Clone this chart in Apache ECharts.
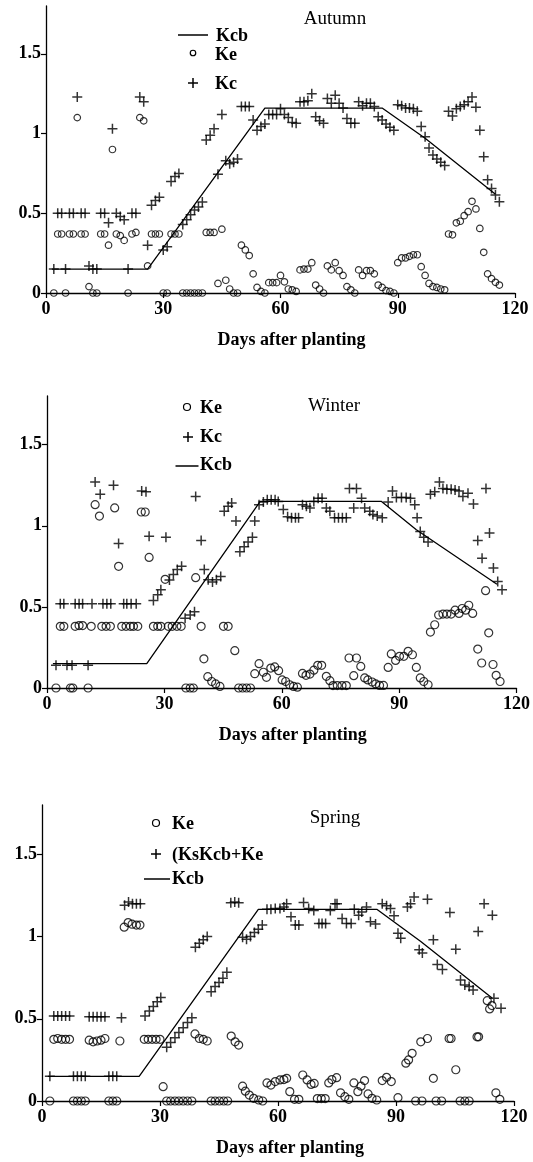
<!DOCTYPE html>
<html><head><meta charset="utf-8">
<script src="https://cdn.jsdelivr.net/npm/echarts@6/dist/echarts.min.js"></script>
<style>html,body{margin:0;padding:0;background:#fff}#c{width:533px;height:1162px}</style>
</head><body><div id="c"></div>
<script>
const xTicks = [0, 30, 60, 90, 120];
const yTicks = [0, 0.5, 1, 1.5];
const seasonTitles = ['Autumn', 'Winter', 'Spring'];
const xTitle = 'Days after planting';

const autumnKcb = [[1.5,0.15],[26,0.15],[56,1.16],[86,1.16],[97,0.97],[115,0.62]];
const autumnKe = [[2,0],[3,0.37],[4,0.37],[5,0],[6,0.37],[7,0.37],[8,1.10],[9,0.37],[10,0.37],[11,0.04],[12,0],[13,0],[14,0.37],[15,0.37],[16,0.30],[17,0.90],[18,0.37],[19,0.36],[20,0.33],[21,0],[22,0.37],[23,0.38],[24,1.10],[25,1.08],[26,0.17],[27,0.37],[28,0.37],[29,0.37],[30,0],[31,0],[32,0.37],[33,0.37],[34,0.37],[35,0],[36,0],[37,0],[38,0],[39,0],[40,0],[41,0.38],[42,0.38],[43,0.38],[44,0.06],[45,0.40],[46,0.08],[47,0.025],[48,0],[49,0],[50,0.30],[51,0.27],[52,0.235],[53,0.12],[54,0.035],[55,0.01],[56,0],[57,0.065],[58,0.065],[59,0.065],[60,0.11],[61,0.07],[62,0.025],[63,0.02],[64,0.01],[65,0.145],[66,0.15],[67,0.15],[68,0.19],[69,0.05],[70,0.025],[71,0],[72,0.17],[73,0.145],[74,0.19],[75,0.14],[76,0.11],[77,0.04],[78,0.02],[79,0],[80,0.145],[81,0.11],[82,0.14],[83,0.14],[84,0.12],[85,0.05],[86,0.035],[87,0.015],[88,0.01],[89,0],[90,0.19],[91,0.22],[92,0.22],[93,0.23],[94,0.24],[95,0.24],[96,0.165],[97,0.11],[98,0.06],[99,0.04],[100,0.035],[101,0.025],[102,0.02],[103,0.37],[104,0.365],[105,0.44],[106,0.45],[107,0.485],[108,0.51],[109,0.575],[110,0.527],[111,0.405],[112,0.255],[113,0.12],[114,0.09],[115,0.067],[116,0.05]];
const autumnKc = [[2,0.15],[3,0.50],[4,0.50],[5,0.15],[6,0.50],[7,0.50],[8,1.23],[9,0.50],[10,0.50],[11,0.17],[12,0.15],[13,0.15],[14,0.50],[15,0.50],[16,0.44],[17,1.03],[18,0.50],[19,0.48],[20,0.46],[21,0.15],[22,0.50],[23,0.50],[24,1.23],[25,1.20],[26,0.30],[27,0.55],[28,0.58],[29,0.60],[30,0.27],[31,0.29],[32,0.70],[33,0.73],[34,0.75],[35,0.43],[36,0.46],[37,0.49],[38,0.52],[39,0.54],[40,0.57],[41,0.96],[42,0.99],[43,1.03],[44,0.745],[45,1.12],[46,0.83],[47,0.81],[48,0.82],[49,0.84],[50,1.17],[51,1.17],[52,1.17],[53,1.085],[54,1.02],[55,1.045],[56,1.06],[57,1.12],[58,1.12],[59,1.12],[60,1.155],[61,1.12],[62,1.10],[63,1.07],[64,1.065],[65,1.20],[66,1.20],[67,1.205],[68,1.25],[69,1.105],[70,1.08],[71,1.065],[72,1.22],[73,1.19],[74,1.24],[75,1.19],[76,1.16],[77,1.095],[78,1.065],[79,1.065],[80,1.20],[81,1.175],[82,1.19],[83,1.19],[84,1.17],[85,1.105],[86,1.085],[87,1.06],[88,1.04],[89,1.02],[90,1.18],[91,1.175],[92,1.16],[93,1.16],[94,1.155],[95,1.14],[96,1.045],[97,0.98],[98,0.91],[99,0.865],[100,0.84],[101,0.82],[102,0.80],[103,1.14],[104,1.11],[105,1.155],[106,1.17],[107,1.18],[108,1.20],[109,1.23],[110,1.165],[111,1.02],[112,0.855],[113,0.71],[114,0.655],[115,0.615],[116,0.573]];

const winterKcb = [[1.5,0.15],[25.5,0.15],[54.5,1.15],[85.5,1.15],[94.4,0.975],[115,0.64]];
const winterKe = [[2.3,0],[3.4,0.38],[4.3,0.38],[6,0],[6.6,0],[7.2,0.38],[8.2,0.385],[9.1,0.385],[10.5,0],[11.3,0.38],[12.3,1.13],[13.4,1.06],[14,0.38],[15.1,0.38],[16.2,0.38],[17.3,1.11],[18.3,0.75],[19.1,0.38],[20.2,0.38],[21.3,0.38],[22.1,0.38],[23.2,0.38],[24.1,1.085],[25.1,1.085],[26.1,0.805],[27.2,0.38],[28.3,0.38],[29.1,0.38],[30.2,0.67],[31,0.38],[32,0.38],[33.2,0.38],[34.3,0.38],[35.5,0],[36.6,0],[37.4,0],[38,0.68],[39.4,0.38],[40.1,0.18],[41.1,0.07],[42.1,0.04],[43.1,0.025],[44.2,0.01],[45.1,0.38],[46.3,0.38],[48,0.23],[49,0],[50,0],[51,0],[52,0],[53.1,0.088],[54.2,0.15],[55.3,0.097],[56.1,0.066],[57.2,0.123],[58.2,0.13],[59.2,0.107],[60.1,0.05],[61,0.04],[62,0.02],[63,0.01],[64,0.005],[65.3,0.09],[66.2,0.078],[67.2,0.086],[68.2,0.11],[69.2,0.14],[70.2,0.14],[71.4,0.072],[72.3,0.045],[73.1,0.015],[74.2,0.015],[75.4,0.015],[76.5,0.015],[77.2,0.185],[78.4,0.076],[79.1,0.185],[80.2,0.133],[81.2,0.062],[82,0.05],[83.1,0.037],[84,0.025],[85,0.016],[86,0.016],[87.2,0.127],[88,0.21],[89.1,0.17],[90.1,0.195],[91.2,0.195],[92.3,0.226],[93.4,0.205],[94.4,0.127],[95.4,0.062],[96.3,0.04],[97.4,0.02],[98,0.345],[99.1,0.39],[100.1,0.45],[101.2,0.456],[102.2,0.456],[103.3,0.456],[104.3,0.48],[105.3,0.46],[106.1,0.49],[107,0.48],[107.8,0.51],[108.8,0.46],[110.1,0.24],[111.1,0.154],[112.1,0.60],[112.9,0.34],[114,0.145],[114.8,0.078],[115.8,0.04]];
const winterKc = [[2.3,0.14],[3.4,0.52],[4.3,0.52],[5.1,0.14],[6.4,0.14],[7.2,0.52],[8.2,0.52],[9.1,0.52],[10.5,0.14],[11.5,0.52],[12.3,1.27],[13.6,1.195],[14.3,0.52],[15.3,0.52],[16.3,0.52],[17,1.25],[18.3,0.89],[19.6,0.52],[20.4,0.52],[21.5,0.52],[22.8,0.52],[24.2,1.215],[25.3,1.21],[26.1,0.935],[27.2,0.54],[28.3,0.575],[29.1,0.605],[30.4,0.93],[31.3,0.665],[32.3,0.70],[33.3,0.73],[34.4,0.75],[35.3,0.43],[36.6,0.45],[37.7,0.47],[38,1.18],[39.4,0.91],[40.2,0.73],[41.2,0.667],[42.3,0.653],[43.3,0.667],[44.4,0.688],[45.3,1.09],[46.3,1.12],[47.2,1.14],[48.3,1.03],[49.3,0.84],[50.4,0.87],[51.4,0.90],[52.5,0.93],[53.1,1.03],[54.2,1.13],[55.3,1.146],[56.3,1.16],[57.3,1.16],[58.3,1.16],[59.1,1.15],[60.4,1.10],[61.5,1.055],[62.5,1.05],[63.5,1.05],[64.3,1.05],[65.3,1.13],[66.3,1.12],[67.2,1.11],[68.2,1.15],[69.3,1.17],[70.3,1.17],[71.4,1.11],[72.3,1.09],[73.5,1.05],[74.5,1.05],[75.5,1.05],[76.5,1.05],[77.3,1.23],[78.4,1.11],[79.1,1.23],[80.4,1.17],[81.2,1.11],[82.5,1.09],[83.3,1.07],[84.4,1.06],[85.7,1.05],[87.2,1.146],[88.3,1.215],[89.3,1.175],[90.6,1.175],[91.8,1.175],[92.9,1.17],[94,1.13],[94.6,1.05],[95.4,0.965],[96.3,0.93],[97.4,0.90],[98,1.195],[99.1,1.21],[100.3,1.27],[101.2,1.23],[102.2,1.225],[103.3,1.225],[104.3,1.22],[105.3,1.215],[106.3,1.18],[107.6,1.20],[109,1.135],[110.1,0.91],[111.2,0.80],[112.2,1.23],[113.1,0.955],[114.1,0.74],[115.2,0.657],[116.3,0.605]];

const springKcb = [[1.5,0.15],[24.7,0.15],[55,1.165],[85.2,1.165],[96.3,0.97],[114.5,0.625]];
const springKe = [[2,0],[3,0.375],[4,0.38],[5,0.375],[6,0.375],[7,0.375],[8,0],[9,0],[10,0],[11,0],[12,0.37],[13,0.36],[14,0.365],[15,0.37],[16,0.38],[17,0],[18,0],[19,0],[19.8,0.365],[20.9,1.057],[21.9,1.085],[22.9,1.075],[24,1.07],[24.9,1.07],[26,0.375],[27,0.375],[28,0.375],[29,0.375],[30,0.375],[30.8,0.087],[31.7,0],[32.7,0],[33.8,0],[34.8,0],[35.9,0],[37,0],[38.1,0],[38.9,0.408],[40,0.38],[41,0.375],[42,0.365],[43,0],[44,0],[45.1,0],[46.2,0],[47.2,0],[48.1,0.395],[49.1,0.36],[50,0.34],[51,0.09],[51.7,0.06],[52.7,0.036],[53.8,0.016],[55.1,0.006],[56.1,0],[57.2,0.11],[58.2,0.097],[59.3,0.118],[60.5,0.128],[61.5,0.13],[62.2,0.138],[63,0.057],[64.2,0.01],[65.3,0.01],[66.3,0.158],[67.4,0.128],[68.4,0.101],[69.2,0.107],[70,0.015],[71,0.015],[72,0.015],[72.9,0.11],[73.7,0.13],[74.9,0.142],[75.9,0.05],[77,0.026],[78,0.01],[79.3,0.11],[80.3,0.057],[81.1,0.09],[82,0.124],[82.9,0.043],[83.9,0.016],[85.1,0.006],[86.5,0.124],[87.6,0.144],[88.8,0.118],[90.5,0.02],[92.5,0.23],[93.2,0.25],[94.1,0.29],[95,0],[96.3,0.36],[96.6,0],[98,0.38],[99.5,0.138],[100.2,0],[101.6,0],[103.5,0.38],[104,0.38],[105.2,0.19],[106.3,0],[107.5,0],[108.6,0],[110.6,0.39],[111,0.39],[113.2,0.61],[113.8,0.56],[114.4,0.58],[115.4,0.05],[116.4,0.01]];
const springKc = [[2,0.15],[3,0.517],[4,0.517],[5,0.517],[6,0.517],[7,0.517],[8,0.15],[9,0.15],[10,0.15],[11,0.15],[12,0.513],[13,0.513],[14,0.513],[15,0.513],[16,0.513],[17,0.15],[18,0.15],[19,0.15],[20.2,0.507],[21,1.19],[22,1.21],[23,1.20],[24,1.20],[25,1.20],[26.2,0.517],[27.3,0.548],[28.3,0.574],[29.3,0.604],[30.2,0.63],[31.7,0.327],[32.7,0.355],[33.8,0.385],[34.8,0.416],[35.9,0.446],[37,0.477],[38.1,0.507],[39,0.935],[40,0.96],[41,0.98],[42,1.0],[43,0.665],[44,0.696],[45,0.72],[46,0.746],[47,0.783],[48,1.205],[49,1.21],[50,1.205],[51,0.996],[52,0.984],[53,1.0],[54,1.024],[55,1.045],[56,1.071],[57.2,1.166],[58.2,1.166],[59.3,1.17],[60.5,1.17],[61.5,1.18],[62.2,1.2],[63.3,1.12],[64.4,1.07],[65.3,1.07],[66.5,1.207],[67.8,1.17],[69.1,1.158],[70.4,1.08],[71.2,1.08],[72.1,1.08],[73.3,1.158],[74.5,1.20],[75,1.20],[76.3,1.11],[77.4,1.08],[78.6,1.08],[79.4,1.166],[80.5,1.13],[81.3,1.15],[82.5,1.18],[83.5,1.09],[84.8,1.077],[86.5,1.2],[87.6,1.187],[88.6,1.17],[89.5,1.126],[90.5,1.02],[91.2,0.99],[92.9,1.18],[93.7,1.2],[94.6,1.24],[95.9,0.92],[96.7,0.90],[98,1.227],[99.5,0.98],[100.5,0.83],[101.8,0.80],[103.7,1.146],[105.2,0.923],[106.4,0.736],[107.5,0.706],[108.6,0.696],[109.6,0.675],[110.9,1.03],[112.4,1.20],[114.5,1.13],[114.9,0.625],[116.7,0.564]];

const panels = [
  {ke: autumnKe, kc: autumnKc, kcb: autumnKcb},
  {ke: winterKe, kc: winterKc, kcb: winterKcb},
  {ke: springKe, kc: springKc, kcb: springKcb}
];
const legendLabels = [
  ['Kcb', 'Ke', 'Kc'],
  ['Ke', 'Kc', 'Kcb'],
  ['Ke', '(KsKcb+Ke', 'Kcb']
];

const FONT = '"Liberation Serif", "Times New Roman", serif';
const layout = [
  {grid: {left: 46, right: 18, top: 6, height: 287}, c: 6.5, p: 10, title: [335, 19], pad: 22,
   leg: [{k: 'line', x: 193, y: 35, w: 30, tx: 216, ty: 36}, {k: 'circle', x: 193, y: 53, tx: 215, ty: 55}, {k: 'plus', x: 193, y: 83, tx: 215, ty: 84}]},
  {grid: {left: 47, right: 16, top: 396, height: 292}, c: 8, p: 10, title: [334, 406], pad: 22,
   leg: [{k: 'circle', x: 187, y: 407, tx: 200, ty: 408}, {k: 'plus', x: 188, y: 437, tx: 200, ty: 437}, {k: 'line', x: 187, y: 466, w: 23, tx: 200, ty: 465}]},
  {grid: {left: 42, right: 19, top: 805, height: 296}, c: 8, p: 10, title: [335, 818], pad: 24,
   leg: [{k: 'circle', x: 156, y: 823, tx: 172, ty: 824}, {k: 'plus', x: 156, y: 854, tx: 172, ty: 855}, {k: 'line', x: 157, y: 879, w: 26, tx: 172, ty: 879}]}
];

const plusPath = 'path://M4.25,0H5.75V4.25H10V5.75H5.75V10H4.25V5.75H0V4.25H4.25Z';
const tickFont = {color: '#000', fontFamily: FONT, fontWeight: 'bold', fontSize: 18};

const option = {
  animation: false,
  backgroundColor: '#fff',
  grid: layout.map(l => l.grid),
  xAxis: layout.map((l, i) => ({
    gridIndex: i, type: 'value', min: xTicks[0], max: xTicks[xTicks.length - 1], interval: 30,
    axisLine: {show: true, onZero: false, lineStyle: {color: '#000', width: 1.3}},
    axisTick: {show: true, length: 5, lineStyle: {color: '#000', width: 1.2}},
    axisLabel: Object.assign({margin: 7}, tickFont),
    splitLine: {show: false},
    name: xTitle, nameLocation: 'middle', nameGap: 38,
    nameTextStyle: {color: '#000', fontFamily: FONT, fontWeight: 'bold', fontSize: 18, padding: [0, 0, 0, l.pad]}
  })),
  yAxis: layout.map((l, i) => ({
    gridIndex: i, type: 'value', min: 0, max: 1.8, interval: 0.5,
    axisLine: {show: true, onZero: false, lineStyle: {color: '#000', width: 1.3}},
    axisTick: {show: true, length: 5, customValues: yTicks, lineStyle: {color: '#000', width: 1.2}},
    axisLabel: Object.assign({margin: 5, customValues: yTicks, formatter: v => (v > 1.6 ? '' : String(v))}, tickFont),
    splitLine: {show: false}
  })),
  series: [],
  graphic: []
};

panels.forEach((p, i) => {
  const l = layout[i];
  option.series.push({
    type: 'line', name: 'Kcb', xAxisIndex: i, yAxisIndex: i, data: p.kcb,
    symbol: 'none', lineStyle: {color: '#000', width: 1.3}, z: 3, silent: true
  });
  option.series.push({
    type: 'scatter', name: 'Ke', xAxisIndex: i, yAxisIndex: i, data: p.ke,
    symbol: 'circle', symbolSize: l.c,
    itemStyle: {color: 'rgba(255,255,255,0)', borderColor: '#000', borderWidth: 1.2}, z: 4, silent: true
  });
  option.series.push({
    type: 'scatter', name: 'Kc', xAxisIndex: i, yAxisIndex: i, data: p.kc,
    symbol: plusPath, symbolSize: l.p, itemStyle: {color: '#000'}, z: 5, silent: true
  });
  option.graphic.push({
    type: 'text', x: l.title[0], y: l.title[1],
    style: {text: seasonTitles[i], font: '19px ' + FONT, fill: '#000', textAlign: 'center', textVerticalAlign: 'middle'}
  });
  l.leg.forEach((g, j) => {
    if (g.k === 'line') {
      option.graphic.push({type: 'line', shape: {x1: g.x - g.w / 2, y1: g.y, x2: g.x + g.w / 2, y2: g.y}, style: {stroke: '#000', lineWidth: 1.5}});
    } else if (g.k === 'circle') {
      option.graphic.push({type: 'circle', shape: {cx: g.x, cy: g.y, r: l.c / 2 - 0.5}, style: {fill: 'none', stroke: '#000', lineWidth: 1.2}});
    } else {
      option.graphic.push({type: 'line', shape: {x1: g.x - 5, y1: g.y, x2: g.x + 5, y2: g.y}, style: {stroke: '#000', lineWidth: 1.5}});
      option.graphic.push({type: 'line', shape: {x1: g.x, y1: g.y - 5, x2: g.x, y2: g.y + 5}, style: {stroke: '#000', lineWidth: 1.5}});
    }
    option.graphic.push({
      type: 'text', x: g.tx, y: g.ty,
      style: {text: legendLabels[i][j], font: 'bold 18px ' + FONT, fill: '#000', textAlign: 'left', textVerticalAlign: 'middle'}
    });
  });
});

const chart = echarts.init(document.getElementById('c'));
chart.setOption(option);
</script>
</body></html>
